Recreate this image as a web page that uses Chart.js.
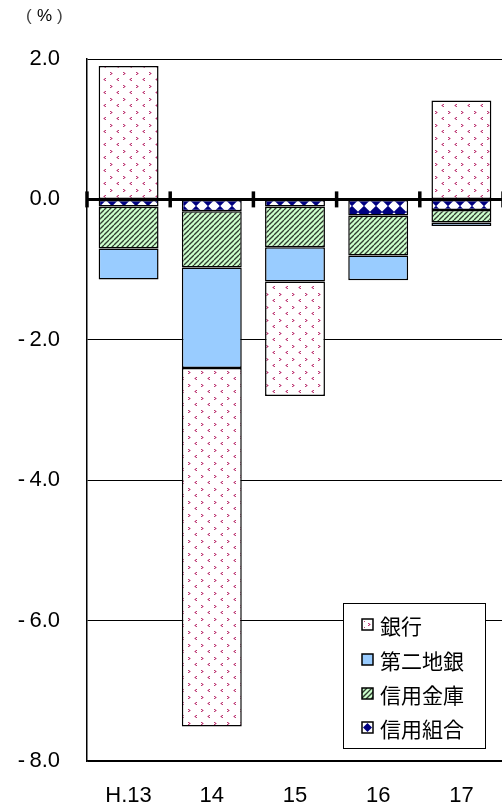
<!DOCTYPE html>
<html>
<head>
<meta charset="utf-8">
<script src="https://cdn.jsdelivr.net/npm/chart.js@4/dist/chart.umd.min.js"></script>
<style>
  html, body { margin: 0; padding: 0; background: #fff; overflow: hidden; }
  #wrap { width: 502px; height: 807px; overflow: hidden; position: relative; }
  canvas { display: block; }
</style>
</head>
<body>
<div id="wrap"><canvas id="c" width="510" height="807"></canvas></div>
<script>
// Fiscal years
const categories = ['H.13', '14', '15', '16', '17'];

// Contribution by business type (%)
const kumiai = [-0.10, -0.17, -0.10, -0.23, -0.15]; // 信用組合
const kinko  = [-0.60, -0.80, -0.58, -0.57, -0.18]; // 信用金庫
const daini  = [-0.44, -1.43, -0.49, -0.35, -0.05]; // 第二地銀
const ginko  = [1.90, -5.11, -1.63, null, 1.41];    // 銀行

// Y axis range and step
const yMin = -8, yMax = 2, yStep = 2;

const FONT = "'Liberation Sans', Arial, sans-serif";
const CJK = "'Noto Sans CJK JP', 'Noto Sans CJK SC', sans-serif";

function makeTile(w, h, draw) {
  const t = document.createElement('canvas');
  t.width = w; t.height = h;
  const g = t.getContext('2d');
  draw(g, w, h);
  return t;
}

const mainCtx = document.getElementById('c').getContext('2d');

// small chevrons: dir 1 = '>', -1 = '<'
function chevron(g, x, y, dir) {
  const dark = '#bc3a74', light = '#e2a0be';
  const px = (dx, dy, c) => { g.fillStyle = c; g.fillRect(dir > 0 ? x + dx : x + 2 - dx, y + dy, 1, 1); };
  px(0, 0, dark); px(1, 1, dark); px(2, 1, light); px(0, 2, dark);
  px(1, 0, light); px(1, 2, light);
}

// Dotted chevrons for 銀行
const bankTile = makeTile(13, 13, (g) => {
  g.fillStyle = '#fff'; g.fillRect(0, 0, 13, 13);
  chevron(g, 2, 2, 1);
  chevron(g, 8, 8, -1);
});

// Diagonal hatching for 信用金庫
const kinkoTile = makeTile(5, 5, (g) => {
  g.fillStyle = '#ccffcc'; g.fillRect(0, 0, 5, 5);
  g.strokeStyle = '#2f3a2f'; g.lineWidth = 1.3;
  for (let k = -5; k <= 10; k += 5) {
    g.beginPath(); g.moveTo(k, 5); g.lineTo(k + 5, 0); g.stroke();
  }
});

// Navy diamond checkerboard for 信用組合
const kumiaiTile = makeTile(12, 12, (g) => {
  g.fillStyle = '#fff'; g.fillRect(0, 0, 12, 12);
  g.fillStyle = '#000080';
  const dia = (cx, cy, r) => {
    g.beginPath(); g.moveTo(cx, cy - r); g.lineTo(cx + r, cy);
    g.lineTo(cx, cy + r); g.lineTo(cx - r, cy); g.closePath(); g.fill();
  };
  dia(0, 0, 6.3); dia(12, 0, 6.3); dia(0, 12, 6.3); dia(12, 12, 6.3);
});

const bankPat = mainCtx.createPattern(bankTile, 'repeat');
const kinkoPat = mainCtx.createPattern(kinkoTile, 'repeat');
const kumiaiPat = mainCtx.createPattern(kumiaiTile, 'repeat');

const series = [
  { label: '信用組合', data: kumiai, fill: kumiaiPat },
  { label: '信用金庫', data: kinko, fill: kinkoPat },
  { label: '第二地銀', data: daini, fill: '#99ccff' },
  { label: '銀行', data: ginko, fill: bankPat }
];

// Align the patterns to the zero line
const patternAnchor = {
  id: 'patternAnchor',
  beforeDatasetsDraw(chart) {
    const y0 = chart.scales.y.getPixelForValue(0);
    const m = new DOMMatrix().translate(4, Math.round(y0) + 1);
    [bankPat, kinkoPat, kumiaiPat].forEach(p => p.setTransform(m));
  }
};

// Bold zero line with category separator ticks
const zeroAxis = {
  id: 'zeroAxis',
  afterDatasetsDraw(chart) {
    const { ctx, chartArea: a, scales } = chart;
    const y0 = scales.y.getPixelForValue(0);
    ctx.save();
    ctx.strokeStyle = '#000';
    ctx.lineWidth = 3;
    ctx.beginPath(); ctx.moveTo(a.left, y0); ctx.lineTo(a.right, y0); ctx.stroke();
    const n = categories.length;
    ctx.lineWidth = 3.5;
    for (let i = 0; i <= n; i++) {
      const x = a.left + i * (a.right - a.left) / n;
      ctx.beginPath(); ctx.moveTo(x, y0 - 8); ctx.lineTo(x, y0 + 8); ctx.stroke();
    }
    ctx.restore();
  }
};

// Unit label and boxed legend inside the plot
const extras = {
  id: 'extras',
  afterDraw(chart) {
    const { ctx } = chart;
    ctx.save();
    ctx.textBaseline = 'middle';
    ctx.font = '17px ' + FONT;
    ctx.fillStyle = '#444';
    ctx.fillText('(', 26, 16);
    ctx.fillText(')', 57, 16);
    ctx.fillStyle = '#000';
    ctx.fillText('%', 37, 16);

    const bx = 343, by = 603, bw = 142, bh = 145;
    ctx.fillStyle = '#fff';
    ctx.fillRect(bx, by, bw, bh);
    ctx.strokeStyle = '#000';
    ctx.lineWidth = 1;
    ctx.strokeRect(bx + 0.5, by + 0.5, bw, bh);

    const items = series.slice().reverse();
    const rowsY = [625, 660, 694, 728];
    items.forEach((s, i) => {
      const cy = rowsY[i];
      const sx = 362, sy = cy - 6;
      ctx.fillStyle = '#fff';
      ctx.fillRect(sx, sy, 11, 11);
      if (s.label === '銀行') {
        chevron(ctx, sx + 6, sy + 4, 1);
        ctx.fillStyle = '#c4487f';
        ctx.fillRect(sx + 2, sy + 2, 1, 1);
        ctx.fillRect(sx + 2, sy + 8, 1, 1);
      } else if (s.label === '第二地銀') {
        ctx.fillStyle = '#99ccff';
        ctx.fillRect(sx, sy, 11, 11);
      } else if (s.label === '信用金庫') {
        ctx.save();
        ctx.beginPath(); ctx.rect(sx, sy, 11, 11); ctx.clip();
        ctx.fillStyle = '#ccffcc'; ctx.fillRect(sx, sy, 11, 11);
        ctx.strokeStyle = '#2f3a2f'; ctx.lineWidth = 1.3;
        for (let k = -11; k <= 11; k += 5) {
          ctx.beginPath(); ctx.moveTo(sx + k, sy + 11); ctx.lineTo(sx + k + 11, sy); ctx.stroke();
        }
        ctx.restore();
      } else {
        ctx.fillStyle = '#000080';
        ctx.beginPath();
        ctx.moveTo(sx + 5.5, sy + 1); ctx.lineTo(sx + 10, sy + 5.5);
        ctx.lineTo(sx + 5.5, sy + 10); ctx.lineTo(sx + 1, sy + 5.5);
        ctx.closePath(); ctx.fill();
      }
      ctx.strokeStyle = '#000';
      ctx.lineWidth = 1.5;
      ctx.strokeRect(sx, sy, 11, 11);
      ctx.fillStyle = '#000';
      ctx.font = '21px ' + CJK;
      ctx.textBaseline = 'middle';
      ctx.fillText(s.label, 380, cy + 1);
    });
    ctx.restore();
  }
};

new Chart(mainCtx, {
  type: 'bar',
  data: {
    labels: categories,
    datasets: series.map(s => ({
      label: s.label,
      data: s.data,
      backgroundColor: s.fill,
      borderColor: '#000',
      borderWidth: 1.5,
      borderSkipped: false,
      barPercentage: 0.72,
      categoryPercentage: 1.0
    }))
  },
  options: {
    responsive: false,
    animation: false,
    devicePixelRatio: 1,
    layout: { padding: { top: 59, right: 7, left: 0, bottom: 0 } },
    plugins: { legend: { display: false }, tooltip: { enabled: false } },
    scales: {
      x: {
        stacked: true,
        grid: { display: false, drawTicks: false },
        border: { display: true, color: '#000', width: 1.5 },
        ticks: { color: '#000', font: { family: FONT, size: 22 }, padding: 22, maxRotation: 0 },
        afterFit(s) { s.height = 46; }
      },
      y: {
        stacked: true,
        min: yMin, max: yMax,
        grid: { color: '#000', lineWidth: 1, drawTicks: false },
        border: { display: true, color: '#000', width: 1.5 },
        ticks: {
          stepSize: yStep,
          color: '#000',
          font: { family: FONT, size: 22 },
          padding: 27,
          callback: v => v < 0 ? '-\u2009' + Math.abs(v).toFixed(1) : Math.abs(v).toFixed(1)
        },
        afterFit(s) { s.width = 87; }
      }
    }
  },
  plugins: [patternAnchor, zeroAxis, extras]
});
</script>
</body>
</html>
